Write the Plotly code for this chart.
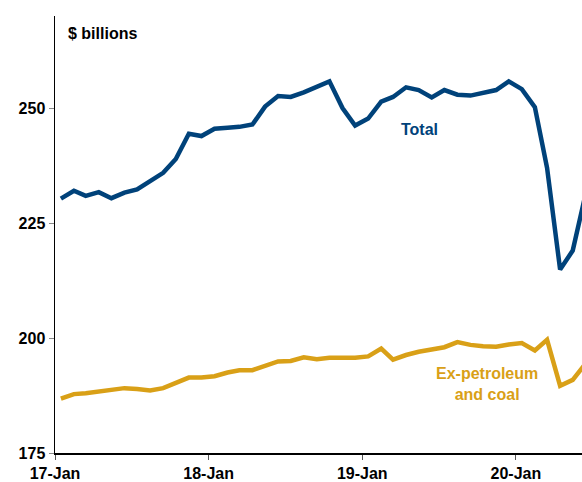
import plotly.graph_objects as go
import pandas as pd

months = pd.date_range("2017-01-01", periods=42, freq="MS") + pd.Timedelta(days=14)
dates = [d.strftime("%Y-%m-%d") for d in months]

total = [230.3, 232.0, 230.9, 231.7, 230.4, 231.6, 232.3, 234.1, 235.9, 238.9,
         244.4, 243.9, 245.5, 245.7, 245.9, 246.4, 250.3, 252.6, 252.4, 253.4,
         254.6, 255.8, 250.0, 246.2, 247.7, 251.4, 252.4, 254.5, 253.9, 252.3,
         253.9, 252.9, 252.7, 253.2, 253.9, 255.8, 254.1, 250.2, 237.0, 214.9,
         219.0, 231.5]

ex_petroleum = [186.8, 187.8, 188.0, 188.4, 188.7, 189.1, 188.9, 188.6, 189.1, 190.2,
                191.4, 191.4, 191.7, 192.5, 193.0, 193.0, 194.0, 194.9, 195.0, 195.8,
                195.4, 195.7, 195.7, 195.7, 196.0, 197.7, 195.3, 196.3, 197.0, 197.5,
                198.0, 199.1, 198.5, 198.2, 198.1, 198.6, 198.9, 197.3, 199.6, 189.6,
                190.9, 194.5]

tick_dates = ["2017-01-01", "2018-01-01", "2019-01-01", "2020-01-01"]
tick_labels = ["17-Jan", "18-Jan", "19-Jan", "20-Jan"]
y_ticks = [175, 200, 225, 250]

NAVY = "#00427A"
GOLD = "#D9A017"
FONT = "Liberation Sans, Arial, sans-serif"

fig = go.Figure()
fig.add_trace(go.Scatter(x=dates, y=total, mode="lines",
                         line=dict(color=NAVY, width=4.5), showlegend=False))
fig.add_trace(go.Scatter(x=dates, y=ex_petroleum, mode="lines",
                         line=dict(color=GOLD, width=4.5), showlegend=False))

fig.update_layout(
    width=582, height=482,
    margin=dict(l=55, r=0, t=16, b=27),
    paper_bgcolor="white", plot_bgcolor="white",
    font=dict(family=FONT, size=16, color="black"),
    xaxis=dict(range=["2017-01-01", "2020-06-06"], tickvals=tick_dates, ticktext=tick_labels,
               showgrid=False, zeroline=False, showline=True, linecolor="black", linewidth=1.5,
               ticks="outside", ticklen=5, tickcolor="#555555", tickwidth=1,
               tickfont=dict(family=FONT, size=16, color="black", weight="bold")),
    yaxis=dict(range=[175, 270], tickvals=y_ticks,
               showgrid=False, zeroline=False, showline=True, linecolor="black", linewidth=1.5,
               ticks="outside", ticklen=5, tickcolor="#888888", tickwidth=1,
               tickfont=dict(family=FONT, size=16, color="black", weight="bold")),
)

fig.add_annotation(text="<b>$ billions</b>", xref="paper", yref="y", x=0.02, y=266.3,
                   xanchor="left", yanchor="middle", showarrow=False,
                   font=dict(family=FONT, size=16, color="black"))
fig.add_annotation(text="<b>Total</b>", xref="x", yref="y", x="2019-05-16", y=245.3,
                   xanchor="center", yanchor="middle", showarrow=False,
                   font=dict(family=FONT, size=16, color=NAVY))
fig.add_annotation(text="<b>Ex-petroleum<br>and coal</b>", xref="x", yref="y", x="2019-10-24", y=190.0,
                   xanchor="center", yanchor="middle", showarrow=False, align="center",
                   font=dict(family=FONT, size=16, color=GOLD))

fig.write_html("out.html",
               config={"displayModeBar": False, "staticPlot": True},
               post_script="document.body.style.margin='0';document.body.style.overflow='hidden';")
